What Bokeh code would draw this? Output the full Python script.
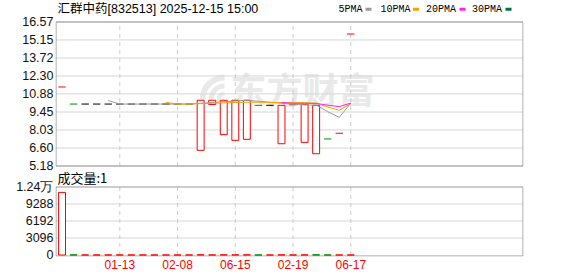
import math
import pandas as pd
from bokeh.plotting import figure
from bokeh.models import Range1d, FixedTicker, ColumnDataSource, LinearAxis
from bokeh.core.properties import value
from bokeh.embed import file_html
from bokeh.resources import INLINE

# ---------------- data ----------------
stock_name = "汇群中药[832513] 2025-12-15 15:00"
watermark_text = "东方财富"

slots = list(range(26))
opens = [11.43, 10.08, 10.08, 10.08, 10.08, 10.08, 10.08, 10.08, 10.08, 10.08,
         10.08, 10.08, 6.42, 10.04, 7.66, 7.21, 7.29, 9.98, 9.98, 6.94,
         10.02, 7.05, 6.15, 7.32, 7.77, 15.62]
closes = [11.43, 10.08, 10.08, 10.08, 10.08, 10.08, 10.08, 10.08, 10.08, 10.08,
          10.08, 10.08, 10.38, 10.38, 10.38, 10.38, 10.38, 9.98, 9.98, 9.98,
          10.02, 10.06, 9.98, 7.32, 7.77, 15.62]
volumes = [11400, 20, 5, 3, 8, 2, 4, 6, 1, 3,
           2, 5, 40, 10, 30, 25, 35, 6, 2, 30,
           4, 20, 25, 3, 2, 1]

tick_slots = [5, 10, 15, 20, 25]
tick_labels = ["01-13", "02-08", "06-15", "02-19", "06-17"]
price_ticks = [5.18, 6.60, 8.03, 9.45, 10.88, 12.30, 13.72, 15.15, 16.57]
vol_ticks = [0, 3096, 6192, 9288, 12384]
vol_tick_labels = ["0", "3096", "6192", "9288", "1.24万"]
ma_periods = [5, 10, 20, 30]
ma_names = ["5PMA", "10PMA", "20PMA", "30PMA"]
ma_colors = ["#9a9a9a", "#f5a300", "#ff22ff", "#00703c"]

RED = "#ff0000"
GREEN = "#008a00"
FLAT = "#000000"
FRAME = "#999999"
GRID = "#d6d6d6"
WM = "#e9e9e9"
CJK = "Noto Sans CJK SC"

# ---------------- layout geometry (pixels) ----------------
W, H = 578, 276
FL, FR = 55, 523            # bokeh frame left/right
FB = 256                    # bokeh frame bottom
BOX_L, BOX_R = 55.5, 522.5  # drawn panel borders
P_TOP, P_BOT = 21.5, 165.5  # price panel
V_TOP, V_ZERO = 186.5, 254.5
V_BORDER = 255.5
SLOT0_PX, SLOT_W = 61.55, 11.55

x_start = (FL - SLOT0_PX) / SLOT_W
x_end = (FR - SLOT0_PX) / SLOT_W

k = (P_BOT - P_TOP) / (price_ticks[-1] - price_ticks[0])
y_end = price_ticks[-1] + P_TOP / k
y_start = price_ticks[0] - (FB - P_BOT) / k
kv = (V_ZERO - V_TOP) / vol_ticks[-1]
v_end = vol_ticks[-1] + V_TOP / kv
v_start = -(FB - V_ZERO) / kv

def px2x(px):
    return x_start + (px - FL) * (x_end - x_start) / (FR - FL)

def py2y(py):
    return y_end - py / k

def py2v(py):
    return v_end - py / kv

# ---------------- derived ----------------
prev_close = [None] + closes[:-1]

def move_color(i):
    if prev_close[i] is None or closes[i] > prev_close[i]:
        return RED
    if closes[i] < prev_close[i]:
        return GREEN
    return FLAT

body = dict(x=[], top=[], bottom=[], line=[], fill=[])
doji = dict(x0=[], x1=[], y=[], color=[])
for i in slots:
    o, c = opens[i], closes[i]
    if o != c:
        body["x"].append(i)
        body["top"].append(max(o, c))
        body["bottom"].append(min(o, c))
        body["line"].append(RED if c > o else GREEN)
        body["fill"].append("white" if c > o else GREEN)
    else:
        doji["x0"].append(i - 0.32)
        doji["x1"].append(i + 0.32)
        doji["y"].append(c)
        doji["color"].append(move_color(i))

vol_colors = [RED if (prev_close[i] is None or closes[i] >= prev_close[i]) else GREEN for i in slots]
vol_fill = ["white" if c == RED else GREEN for c in vol_colors]

cs = pd.Series(closes, dtype=float)
ma_values = {n: cs.rolling(n).mean().tolist() for n in ma_periods}

# volume ticks expressed on the price scale so that one left axis carries all labels
vol_tick_pos = [py2y(V_ZERO - v * kv) for v in vol_ticks]
all_ticks = price_ticks + vol_tick_pos
overrides = {t: f"{t:.2f}" for t in price_ticks}
overrides.update({t: s for t, s in zip(vol_tick_pos, vol_tick_labels)})

# ---------------- figure ----------------
p = figure(width=W, height=H, x_range=Range1d(x_start, x_end), y_range=Range1d(y_start, y_end),
           x_axis_location=None, y_axis_location=None, toolbar_location=None,
           output_backend="svg", min_border_left=FL, min_border_right=W - FR,
           min_border_top=0, min_border_bottom=H - FB)
p.extra_y_ranges = {"vol": Range1d(v_start, v_end)}
p.outline_line_color = None
p.background_fill_color = "white"
p.border_fill_color = "white"

yax = LinearAxis(ticker=FixedTicker(ticks=all_ticks))
yax.major_label_overrides = overrides
yax.axis_line_color = None
yax.major_tick_line_color = None
yax.minor_tick_line_color = None
yax.major_tick_out = 0
yax.major_tick_in = 0
yax.major_label_standoff = 2
yax.major_label_text_font = "Liberation Sans"
yax.major_label_text_font_size = "12.5px"
yax.major_label_text_color = "#111111"
p.add_layout(yax, "left")

xax = LinearAxis(ticker=FixedTicker(ticks=tick_slots))
xax.major_label_overrides = {s: t for s, t in zip(tick_slots, tick_labels)}
xax.axis_line_color = None
xax.major_tick_line_color = None
xax.minor_tick_line_color = None
xax.major_tick_out = 0
xax.major_tick_in = 0
xax.major_label_standoff = 3
xax.major_label_text_font = "Liberation Sans"
xax.major_label_text_font_size = "12px"
xax.major_label_text_color = RED
p.add_layout(xax, "below")

for g in p.xgrid:
    g.visible = False
for g in p.ygrid:
    g.visible = False

xl, xr = px2x(BOX_L), px2x(BOX_R)

# watermark (logo swoosh + wordmark)
logo_x, logo_y = px2x(224), py2y(99)
p.annular_wedge(x=[logo_x] * 3, y=[logo_y] * 3, inner_radius=[4, 11, 19], outer_radius=[8, 16, 25],
                inner_radius_units="screen", outer_radius_units="screen",
                start_angle=math.pi / 2, end_angle=math.pi,
                fill_color=WM, line_color=None)
p.text(x=[px2x(302)], y=[py2y(87)], text=[watermark_text], text_font=value(CJK),
       text_font_size="36px", text_font_style="bold", text_color=WM,
       text_align="center", text_baseline="middle")

# horizontal grid lines
p.segment(x0=[xl] * len(price_ticks), x1=[xr] * len(price_ticks),
          y0=price_ticks, y1=price_ticks, line_color=GRID, line_width=1)
p.segment(x0=[xl] * 3, x1=[xr] * 3, y0=vol_ticks[1:4], y1=vol_ticks[1:4],
          line_color=GRID, line_width=1, y_range_name="vol")
# vertical dashed grid lines
p.segment(x0=tick_slots, x1=tick_slots, y0=[price_ticks[0]] * 5, y1=[price_ticks[-1]] * 5,
          line_color="#cccccc", line_dash="4 4", line_width=1)
p.segment(x0=tick_slots, x1=tick_slots, y0=[vol_ticks[0]] * 5, y1=[vol_ticks[-1]] * 5,
          line_color="#cccccc", line_dash="4 4", line_width=1, y_range_name="vol")

# panel borders
for lo, hi, rn in ((price_ticks[0], price_ticks[-1], "default"),
                   (py2v(V_BORDER), vol_ticks[-1], "vol")):
    p.segment(x0=[xl, xr, xl, xl], x1=[xl, xr, xr, xr], y0=[lo, lo, lo, hi], y1=[hi, hi, lo, hi],
              line_color=FRAME, line_width=1, y_range_name=rn)

# candles
p.vbar(x="x", top="top", bottom="bottom", width=0.6, source=ColumnDataSource(body),
       fill_color="fill", line_color="line", line_width=1)
p.segment(x0="x0", x1="x1", y0="y", y1="y", source=ColumnDataSource(doji),
          line_color="color", line_width=1)
for n, col in zip(ma_periods, ma_colors):
    p.line(slots, ma_values[n], line_color=col, line_width=1)

# volume
p.vbar(x=slots, top=volumes, bottom=0, width=0.6, fill_color=vol_fill,
       line_color=vol_colors, line_width=1, y_range_name="vol")

# title, legend, caption
p.text(x=[px2x(57)], y=[py2y(8.5)], text=[stock_name],
       text_font=value("Liberation Sans, Noto Sans CJK SC"), text_font_size="12.5px",
       text_color="#000000", text_align="left", text_baseline="middle")

legend_text_px = [338, 380, 425.5, 471.5]
legend_mark_px = [368, 415.5, 462, 508]
p.text(x=[px2x(v) for v in legend_text_px], y=[py2y(9)] * 4, text=ma_names,
       text_font=value("Liberation Mono"), text_font_size="10px", text_color="#000000",
       text_align="left", text_baseline="middle")
p.rect(x=[px2x(v) for v in legend_mark_px], y=[py2y(8.7)] * 4, width=6, height=3,
       width_units="screen", height_units="screen", fill_color=ma_colors, line_color=None)

p.text(x=[px2x(57)], y=[py2y(177)], text=[f"成交量:{volumes[-1]}"],
       text_font=value(CJK), text_font_size="13px", text_color="#000000",
       text_align="left", text_baseline="middle")

open("out.html", "w").write(file_html(p, INLINE))
